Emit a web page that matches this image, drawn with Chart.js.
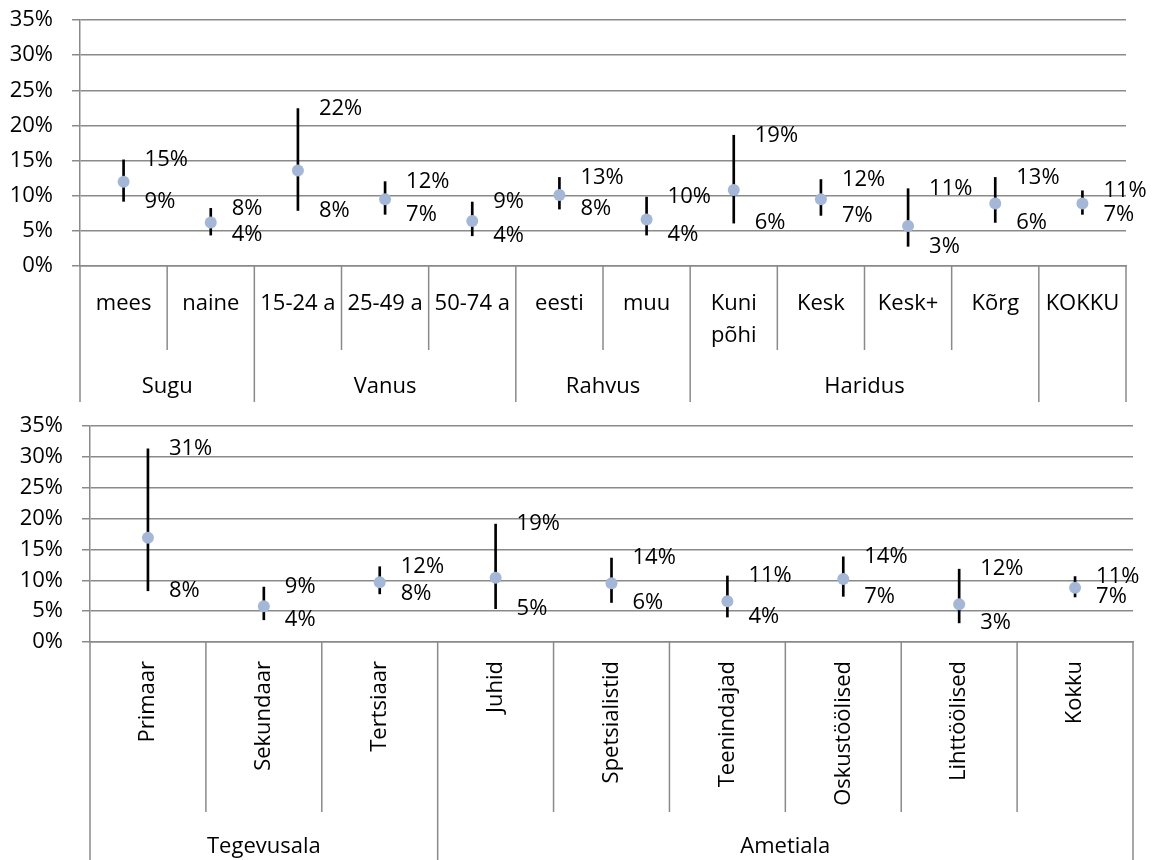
<!DOCTYPE html>
<html>
<head>
<meta charset="utf-8">
<script src="https://cdn.jsdelivr.net/npm/chart.js@4.4.0/dist/chart.umd.min.js"></script>
<style>
  body { margin: 0; background: #fff; }
  canvas { position: absolute; left: 0; }
  #topChart { top: 0; }
  #bottomChart { top: 410px; }
</style>
</head>
<body>
<canvas id="topChart" width="1161" height="410"></canvas>
<canvas id="bottomChart" width="1161" height="450"></canvas>
<script>
// top panel
const topLabels = ['mees', 'naine', '15-24 a', '25-49 a', '50-74 a', 'eesti', 'muu', ['Kuni', 'põhi'], 'Kesk', 'Kesk+', 'Kõrg', 'KOKKU'];
const topMean = [12.0, 6.2, 13.6, 9.5, 6.4, 10.1, 6.6, 10.8, 9.5, 5.7, 8.9, 8.9];
const topHigh = [15.1, 8.2, 22.4, 12.0, 9.1, 12.6, 9.8, 18.6, 12.3, 11.0, 12.6, 10.7];
const topLow = [9.2, 4.4, 7.9, 7.35, 4.3, 8.1, 4.4, 6.1, 7.2, 2.8, 6.2, 7.35];
const topGroups = ['Sugu', 'Vanus', 'Rahvus', 'Haridus', ''];
const topGroupSizes = [2, 3, 2, 4, 1];

// bottom panel
const bottomLabels = ['Primaar', 'Sekundaar', 'Tertsiaar', 'Juhid', 'Spetsialistid', 'Teenindajad', 'Oskustöölised', 'Lihttöölised', 'Kokku'];
const bottomMean = [16.9, 5.8, 9.7, 10.4, 9.5, 6.6, 10.2, 6.1, 8.8];
const bottomHigh = [31.3, 8.9, 12.2, 19.1, 13.6, 10.7, 13.8, 11.8, 10.6];
const bottomLow = [8.3, 3.6, 7.8, 5.4, 6.4, 4.05, 7.4, 3.1, 7.3];
const bottomGroups = ['Tegevusala', 'Ametiala'];
const bottomGroupSizes = [3, 6];

const yMin = 0, yMax = 35, yStep = 5;

const GRID = '#8a8a8a';
const MARKER = '#A5B7D7';
const FONT = '"Open Sans", sans-serif';
Chart.defaults.font.family = FONT;
Chart.defaults.color = '#000';

// high / low value labels to the right of each range line
const rangeLabels = {
  id: 'rangeLabels',
  afterDatasetsDraw(chart) {
    const { ctx, scales: { x, y } } = chart;
    const ranges = chart.data.datasets[1].data;
    ctx.save();
    ctx.font = '22px ' + FONT;
    ctx.fillStyle = '#000';
    ctx.textAlign = 'left';
    ctx.textBaseline = 'middle';
    ranges.forEach((r, i) => {
      const px = x.getPixelForValue(i) + 21;
      ctx.fillText(Math.round(r[1]) + '%', px, y.getPixelForValue(r[1]));
      ctx.fillText(Math.round(r[0]) + '%', px, y.getPixelForValue(r[0]));
    });
    ctx.restore();
  }
};

// second level of the category axis: dividers and group names
function categoryTable(names, sizes, rowDepth, groupDepth, groupBase) {
  return {
    id: 'categoryTable',
    afterDraw(chart) {
      const { ctx, chartArea, scales: { x } } = chart;
      const n = chart.data.labels.length;
      const edges = [0];
      sizes.forEach(s => edges.push(edges[edges.length - 1] + s));
      const y0 = chartArea.bottom;
      ctx.save();
      ctx.strokeStyle = GRID;
      ctx.lineWidth = 1.5;
      for (let i = 0; i <= n; i++) {
        const px = x.getPixelForValue(i - 0.5);
        ctx.beginPath();
        ctx.moveTo(px, y0);
        ctx.lineTo(px, y0 + (edges.includes(i) ? groupDepth : rowDepth));
        ctx.stroke();
      }
      ctx.font = '22px ' + FONT;
      ctx.fillStyle = '#000';
      ctx.textAlign = 'center';
      ctx.textBaseline = 'alphabetic';
      names.forEach((name, g) => {
        const a = x.getPixelForValue(edges[g] - 0.5);
        const b = x.getPixelForValue(edges[g + 1] - 0.5);
        ctx.fillText(name, (a + b) / 2, y0 + groupBase);
      });
      ctx.restore();
    }
  };
}

function makeChart(id, labels, mean, low, high, table, o) {
  new Chart(document.getElementById(id), {
    type: 'bar',
    data: {
      labels: labels,
      datasets: [
        {
          type: 'line',
          data: mean,
          showLine: false,
          pointRadius: 6,
          pointHoverRadius: 6,
          pointBackgroundColor: MARKER,
          pointBorderColor: MARKER,
          pointBorderWidth: 0,
          order: 0
        },
        {
          type: 'bar',
          data: low.map((v, i) => [v, high[i]]),
          backgroundColor: '#000',
          barThickness: 2,
          grouped: false,
          order: 1
        }
      ]
    },
    options: {
      responsive: false,
      animation: false,
      devicePixelRatio: 1,
      layout: { padding: o.padding },
      plugins: { legend: { display: false }, tooltip: { enabled: false } },
      scales: {
        x: {
          type: 'category',
          offset: true,
          grid: { display: false, drawTicks: false },
          border: { display: true, color: GRID, width: 1.5 },
          ticks: {
            autoSkip: false,
            minRotation: o.rotation,
            maxRotation: o.rotation,
            padding: o.tickPadding,
            color: '#000',
            font: { size: 22, lineHeight: 1.45 }
          },
          afterFit: s => { s.height = o.xHeight; }
        },
        y: {
          min: yMin,
          max: yMax,
          ticks: {
            stepSize: yStep,
            autoSkip: false,
            padding: 19,
            color: '#000',
            font: { size: 22 },
            callback: v => v + '%'
          },
          grid: { color: GRID, lineWidth: 1.5, tickLength: 8 },
          border: { color: GRID, width: 1.5 },
          afterFit: s => { s.width = o.yWidth; s.paddingTop = 0; s.paddingBottom = 0; }
        }
      }
    },
    plugins: [rangeLabels, table]
  });
}

makeChart('topChart', topLabels, topMean, topLow, topHigh,
  categoryTable(topGroups, topGroupSizes, 84, 136, 127),
  { padding: { top: 20, right: 35, bottom: 0, left: 0 }, yWidth: 80, xHeight: 144, rotation: 0, tickPadding: 22 });

makeChart('bottomChart', bottomLabels, bottomMean, bottomLow, bottomHigh,
  categoryTable(bottomGroups, bottomGroupSizes, 170, 220, 211),
  { padding: { top: 16, right: 28, bottom: 0, left: 0 }, yWidth: 90, xHeight: 218, rotation: 90, tickPadding: 19 });
</script>
</body>
</html>
